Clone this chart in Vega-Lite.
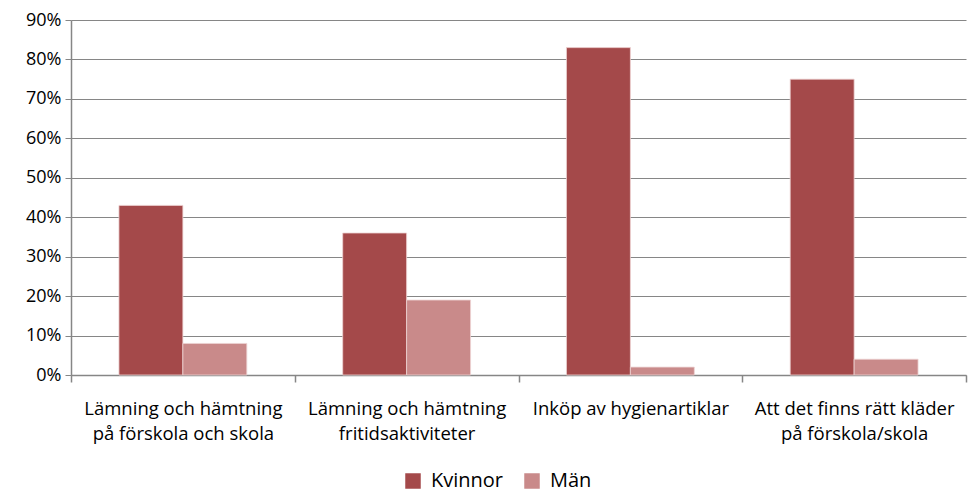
{
  "$schema": "https://vega.github.io/schema/vega-lite/v6.json",
  "width": 895,
  "height": 355,
  "autosize": {"type": "none"},
  "padding": {"left": 71, "top": 20, "right": 2, "bottom": 117},
  "background": "white",
  "config": {
    "view": {"stroke": null},
    "font": "Open Sans"
  },
  "data": {
    "values": [
      {"kategori": "Lämning och hämtning|på förskola och skola", "kon": "Kvinnor", "andel": 0.43},
      {"kategori": "Lämning och hämtning|på förskola och skola", "kon": "Män", "andel": 0.08},
      {"kategori": "Lämning och hämtning|fritidsaktiviteter", "kon": "Kvinnor", "andel": 0.36},
      {"kategori": "Lämning och hämtning|fritidsaktiviteter", "kon": "Män", "andel": 0.19},
      {"kategori": "Inköp av hygienartiklar", "kon": "Kvinnor", "andel": 0.83},
      {"kategori": "Inköp av hygienartiklar", "kon": "Män", "andel": 0.02},
      {"kategori": "Att det finns rätt kläder|på förskola/skola", "kon": "Kvinnor", "andel": 0.75},
      {"kategori": "Att det finns rätt kläder|på förskola/skola", "kon": "Män", "andel": 0.04}
    ]
  },
  "mark": {"type": "bar", "stroke": "#EDD3D3", "strokeWidth": 0.8},
  "encoding": {
    "x": {
      "field": "kategori",
      "type": "nominal",
      "sort": null,
      "scale": {"paddingInner": 0, "paddingOuter": 0},
      "axis": {
        "title": null,
        "labelAngle": 0,
        "labelExpr": "split(datum.label, '|')",
        "labelFontSize": 18.5,
        "labelColor": "#000000",
        "labelPadding": 17,
        "labelLineHeight": 25,
        "labelLimit": 300,
        "tickBand": "extent",
        "tickSize": 7,
        "tickColor": "#868686",
        "tickWidth": 1.5,
        "domainColor": "#868686",
        "domainWidth": 1.5,
        "grid": false
      }
    },
    "xOffset": {"field": "kon", "type": "nominal", "sort": ["Kvinnor", "Män"], "scale": {"paddingInner": 0, "paddingOuter": 0.75}},
    "y": {
      "field": "andel",
      "type": "quantitative",
      "scale": {"domain": [0, 0.9], "nice": false},
      "axis": {
        "title": null,
        "values": [0, 0.1, 0.2, 0.3, 0.4, 0.5, 0.6, 0.7, 0.8, 0.9],
        "format": ".0%",
        "labelFontSize": 18,
        "labelColor": "#000000",
        "labelPadding": 4,
        "tickSize": 6,
        "tickColor": "#868686",
        "tickWidth": 1,
        "domainColor": "#868686",
        "domainWidth": 1.5,
        "gridColor": "#868686",
        "gridWidth": 1
      }
    },
    "color": {
      "field": "kon",
      "type": "nominal",
      "sort": ["Kvinnor", "Män"],
      "scale": {"domain": ["Kvinnor", "Män"], "range": ["#A4494A", "#C98A8A"]},
      "legend": {
        "title": null,
        "orient": "none",
        "legendX": 332,
        "legendY": 451,
        "direction": "horizontal",
        "symbolType": "square",
        "symbolSize": 240,
        "symbolStrokeWidth": 0,
        "labelFontSize": 20,
        "labelColor": "#000000",
        "labelOffset": 8,
        "columnPadding": 18
      }
    }
  }
}
